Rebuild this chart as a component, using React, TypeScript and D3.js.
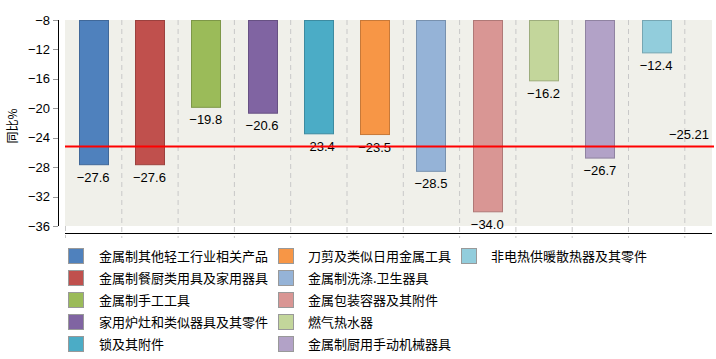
import React from "react";
import * as d3 from "d3";

const categories = [
  "金属制其他轻工行业相关产品",
  "金属制餐厨类用具及家用器具",
  "金属制手工工具",
  "家用炉灶和类似器具及其零件",
  "锁及其附件",
  "刀剪及类似日用金属工具",
  "金属制洗涤.卫生器具",
  "金属包装容器及其附件",
  "燃气热水器",
  "金属制厨用手动机械器具",
  "非电热供暖散热器及其零件",
];
const values = [-27.6, -27.6, -19.8, -20.6, -23.4, -23.5, -28.5, -34.0, -16.2, -26.7, -12.4];
const colors = [
  "#4F81BD", "#C0504D", "#9BBB59", "#8064A2", "#4BACC6", "#F79646",
  "#95B3D7", "#D99694", "#C3D69B", "#B2A2C7", "#92CDDC",
];
const yTicks = [-8, -12, -16, -20, -24, -28, -32, -36];
const average = -25.21;
const yTitle = "同比%";

const W = 716;
const H = 359;
const plotL = 65;
const plotR = 712;
const plotT = 20;
const plotB = 226;

export default function App() {
  const x = d3.scaleBand<string>().domain(categories).range([plotL, plotL + 56.3 * 11]).paddingInner(0).paddingOuter(0);
  const y = d3.scaleLinear().domain([-36, -8]).range([plotB, plotT]);
  const bw = 29;
  const gridXs = categories.map((c) => (x(c) as number) + x.bandwidth());
  const font = "'Liberation Sans', Arial, sans-serif";
  const cjk = "'Noto Sans CJK SC', sans-serif";
  return (
    <svg width={W} height={H} style={{ position: "absolute", left: 0, top: 0 }}>
      <rect x={plotL} y={plotT} width={plotR - plotL} height={plotB - plotT} fill="#F0F0EA" />
      {[plotL, ...gridXs].map((gx, i) => (
        <line key={i} x1={gx + 0.5} x2={gx + 0.5} y1={i === 0 ? plotB : plotT} y2={238} stroke="#C8C8C8" strokeDasharray="5,4" />
      ))}
      <line x1={58.5} x2={58.5} y1={plotT} y2={plotB} stroke="#000" />
      {yTicks.map((t) => (
        <g key={t}>
          <line x1={53} x2={58} y1={Math.round(y(t)) + 0.5} y2={Math.round(y(t)) + 0.5} stroke="#999" />
          <text x={50} y={y(t)} dy="0.35em" textAnchor="end" fontFamily={font} fontSize={13} fill="#000">
            {"\u2212" + Math.abs(t)}
          </text>
        </g>
      ))}
      <line x1={plotL} x2={plotR} y1={233.5} y2={233.5} stroke="#000" />
      <text transform={`translate(13,${(plotT + plotB) / 2 + 3}) rotate(-90)`} textAnchor="middle" dy="0.35em" fontFamily={cjk} fontSize={12} fill="#000">
        {yTitle}
      </text>
      {categories.map((c, i) => {
        const cx = (x(c) as number) + x.bandwidth() / 2;
        const y0 = y(-8);
        const y1 = y(values[i]);
        const col = d3.color(colors[i])!.darker(0.6).formatHex();
        return (
          <g key={c}>
            <rect x={Math.round(cx - bw / 2) + 0.5} y={y0 + 0.5} width={bw} height={y1 - y0} fill={colors[i]} stroke={col} strokeWidth={1} />
            <text x={cx} y={y1 + 13} dy="0.35em" textAnchor="middle" fontFamily={font} fontSize={13} fill="#000">
              {"\u2212" + Math.abs(values[i]).toFixed(1)}
            </text>
          </g>
        );
      })}
      <line x1={plotL} x2={714} y1={y(average)} y2={y(average)} stroke="#FF0000" strokeWidth={2} />
      <text x={709} y={y(average) - 8} textAnchor="end" fontFamily={font} fontSize={13} fill="#000">
        {"\u2212" + Math.abs(average).toFixed(2)}
      </text>
      {categories.map((c, i) => {
        const col = Math.floor(i / 5);
        const row = i % 5;
        const sx = [68, 278, 461][col];
        const tx = [99, 308, 491][col];
        const cy = 256 + row * 22;
        return (
          <g key={"l" + c}>
            <rect x={sx + 0.5} y={cy - 7.5} width={15} height={15} fill={colors[i]} stroke="#999" />
            <text x={tx} y={cy} dy="0.35em" fontFamily={cjk} fontSize={13} fill="#000">
              {c}
            </text>
          </g>
        );
      })}
    </svg>
  );
}
